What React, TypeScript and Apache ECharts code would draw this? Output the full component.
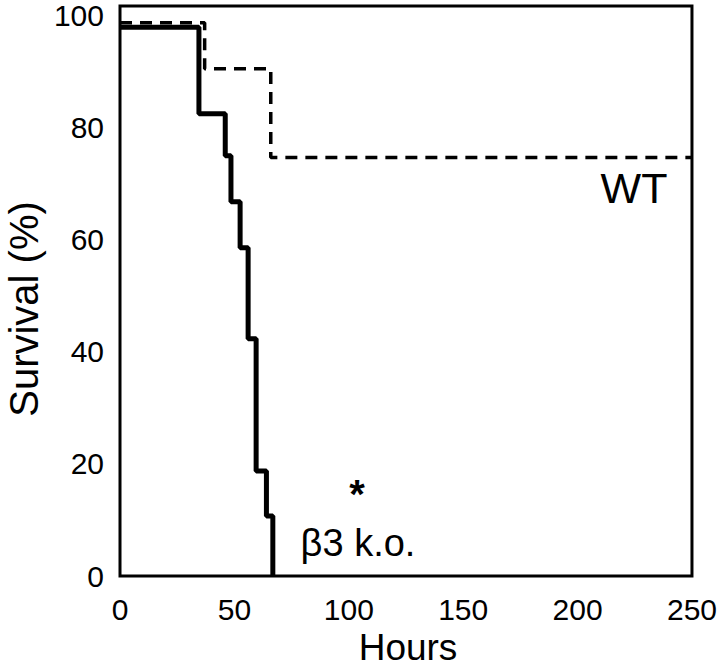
import React, { useEffect, useRef } from "react";
import * as echarts from "echarts";

// Kaplan-Meier style survival steps (hours, % survival after each drop)
const koHours = [0, 34.5, 46, 48.5, 52.5, 56, 59.5, 64, 66.8];
const koSurvival = [97.8, 82.4, 74.9, 66.7, 58.5, 42.3, 18.7, 10.7, 0];
const wtHours = [0, 37, 65.9, 250];
const wtSurvival = [98.6, 90.4, 74.6, 74.6];

const xTicks = [0, 50, 100, 150, 200, 250];
const yTicks = [0, 20, 40, 60, 80, 100];

const FONT = "Arial, 'Liberation Sans', Helvetica, sans-serif";

export default function App() {
  const ref = useRef<HTMLDivElement>(null);
  useEffect(() => {
    if (!ref.current) return;
    const chart = echarts.init(ref.current, undefined, { renderer: "svg" });
    const koData = koHours.map((h, i) => [h, koSurvival[i]]);
    const wtData = wtHours.map((h, i) => [h, wtSurvival[i]]);
    chart.setOption({
      animation: false,
      backgroundColor: "#ffffff",
      grid: {
        left: 120,
        right: 27,
        top: 5,
        bottom: 91,
        show: true,
        borderColor: "#000",
        borderWidth: 3,
        backgroundColor: "transparent",
      },
      xAxis: {
        type: "value",
        min: xTicks[0],
        max: xTicks[xTicks.length - 1],
        interval: 50,
        axisLine: { show: false },
        axisTick: { show: false },
        splitLine: { show: false },
        axisLabel: {
          color: "#000",
          fontSize: 30,
          fontFamily: FONT,
          margin: 18,
          formatter: (v: number) => (xTicks.includes(v) ? String(v) : ""),
        },
      },
      yAxis: {
        type: "value",
        min: 0,
        max: 101.6,
        interval: 20,
        axisLine: { show: false },
        axisTick: { show: false },
        splitLine: { show: false },
        axisLabel: {
          color: "#000",
          fontSize: 30,
          fontFamily: FONT,
          margin: 16,
          formatter: (v: number) => (yTicks.includes(v) ? String(v) : ""),
        },
      },
      series: [
        {
          name: "WT",
          type: "line",
          step: "end",
          data: wtData,
          symbol: "none",
          lineStyle: { color: "#000", width: 3.5, type: [12, 8] },
        },
        {
          name: "β3 k.o.",
          type: "line",
          step: "end",
          data: koData,
          symbol: "none",
          lineStyle: { color: "#000", width: 5 },
        },
      ],
      graphic: [
        {
          type: "text",
          x: 24,
          y: 309,
          rotation: Math.PI / 2,
          style: {
            text: "Survival (%)",
            fontSize: 40,
            fontFamily: FONT,
            fill: "#000",
            textAlign: "center",
            textVerticalAlign: "middle",
          },
        },
        {
          type: "text",
          x: 408,
          y: 647,
          style: {
            text: "Hours",
            fontSize: 37,
            fontFamily: FONT,
            fill: "#000",
            textAlign: "center",
            textVerticalAlign: "middle",
          },
        },
        {
          type: "text",
          x: 634,
          y: 188,
          style: {
            text: "WT",
            fontSize: 43,
            fontFamily: FONT,
            fill: "#000",
            textAlign: "center",
            textVerticalAlign: "middle",
          },
        },
        {
          type: "text",
          x: 358,
          y: 543,
          style: {
            text: "β3 k.o.",
            fontSize: 38,
            fontFamily: FONT,
            fill: "#000",
            textAlign: "center",
            textVerticalAlign: "middle",
          },
        },
        {
          type: "text",
          x: 357,
          y: 494,
          style: {
            text: "*",
            fontSize: 40,
            fontWeight: "bold",
            fontFamily: FONT,
            fill: "#000",
            textAlign: "center",
            textVerticalAlign: "middle",
          },
        },
      ],
    });
    return () => chart.dispose();
  }, []);
  return (
    <div
      ref={ref}
      style={{ position: "fixed", left: 0, top: 0, width: 720, height: 667 }}
    />
  );
}
